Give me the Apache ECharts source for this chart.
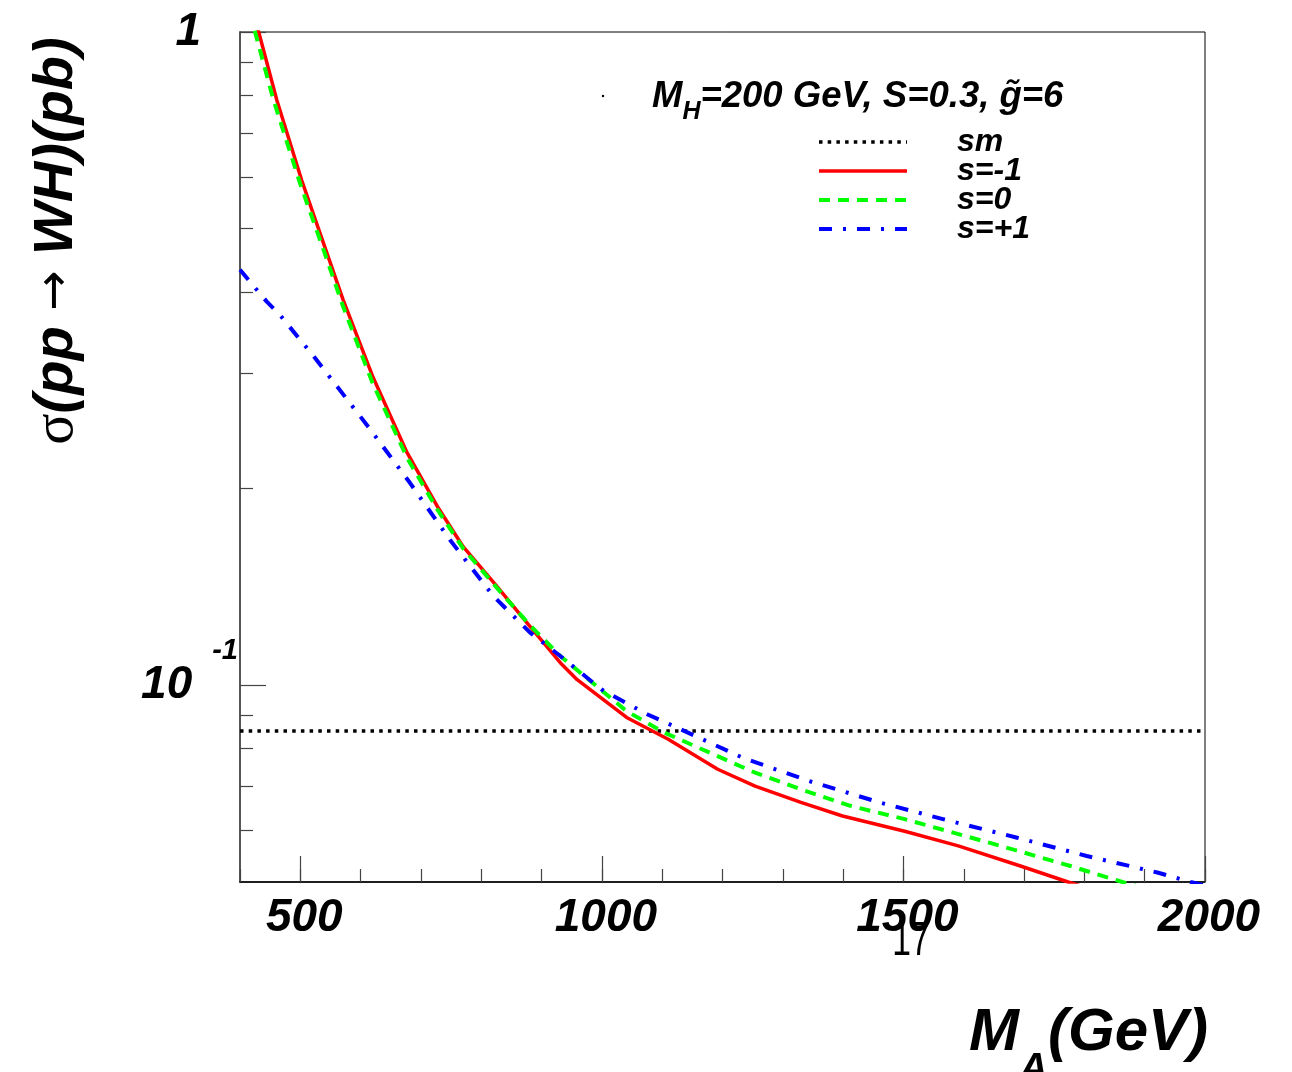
<!DOCTYPE html>
<html>
<head>
<meta charset="utf-8">
<script src="https://cdn.jsdelivr.net/npm/echarts@6/dist/echarts.min.js"></script>
<style>
html,body{margin:0;padding:0;background:#fff;}
#c{width:1292px;height:1072px;}
</style>
</head>
<body>
<div id="c"></div>
<script>
// ---- data ----
const smMass = [400, 2000];
const smSigma = [0.0851, 0.0851];

const redMass  = [400, 431, 461, 502, 544, 571, 620, 677, 727, 770, 826, 881, 931, 959, 1041, 1110, 1192, 1254, 1330, 1399, 1502, 1591, 1694, 1773, 2000];
const redSigma = [1.28, 1.0, 0.787, 0.594, 0.459, 0.389, 0.297, 0.227, 0.188, 0.163, 0.1417, 0.123, 0.1083, 0.102, 0.0893, 0.0827, 0.0744, 0.0701, 0.0662, 0.0631, 0.0598, 0.0568, 0.0529, 0.0500, 0.0430];

const greenMass  = [400, 425, 455, 500, 540, 571, 620, 677, 727, 770, 826, 881, 931, 1041, 1103, 1192, 1254, 1330, 1412, 1502, 1591, 1681, 1777, 1863, 2000];
const greenSigma = [1.22, 1.0, 0.79, 0.585, 0.46, 0.38, 0.29, 0.223, 0.186, 0.162, 0.141, 0.1235, 0.1109, 0.0913, 0.0847, 0.0779, 0.0735, 0.0693, 0.0654, 0.0624, 0.0592, 0.0561, 0.0529, 0.0500, 0.0460];

const blueMass  = [400, 444, 465, 522, 610, 682, 748, 820, 881, 931, 999, 1075, 1130, 1233, 1343, 1460, 1577, 1687, 1804, 1921, 1976, 2000];
const blueSigma = [0.4325, 0.387, 0.370, 0.319, 0.2506, 0.204, 0.167, 0.137, 0.1204, 0.1109, 0.0986, 0.0903, 0.0857, 0.0775, 0.0714, 0.0662, 0.0620, 0.0585, 0.0548, 0.0517, 0.0500, 0.0494];

const seriesNames = ['sm', 's=-1', 's=0', 's=+1'];
const xMajorTicks = [500, 1000, 1500, 2000];
const yMajorTicks = [0.1, 1];
const yMinorTicks = [0.06, 0.07, 0.08, 0.09, 0.2, 0.3, 0.4, 0.5, 0.6, 0.7, 0.8, 0.9];

// ---- chart ----
const FONT = "'Liberation Sans', Arial, Helvetica, sans-serif";
const SYM = "'Liberation Serif', 'DejaVu Serif', serif";
const ARROW = "'DejaVu Sans', sans-serif";
const bi = (size) => ({fontFamily: FONT, fontWeight: 'bold', fontStyle: 'italic', fontSize: size, color: '#000'});
const pairs = (xs, ys) => xs.map((x, i) => [x, ys[i]]);

const chart = echarts.init(document.getElementById('c'), null, {renderer: 'canvas'});

const option = {
  animation: false,
  backgroundColor: '#fff',
  grid: {left: 240, top: 32, right: 87, bottom: 190, show: true, borderColor: '#000', borderWidth: 1, backgroundColor: 'transparent'},
  xAxis: [
    {
      type: 'value', min: 400, max: 2000, interval: 100, position: 'bottom',
      axisLine: {show: true, lineStyle: {color: '#000', width: 1.5}},
      axisTick: {show: true, inside: true, length: 13, lineStyle: {color: '#444', width: 1.2}},
      axisLabel: {show: false},
      splitLine: {show: false}
    },
    {
      type: 'value', min: 400, max: 2000, position: 'bottom',
      axisLine: {show: false},
      axisTick: {show: true, inside: true, length: 26, customValues: xMajorTicks, lineStyle: {color: '#444', width: 1.2}},
      axisLabel: Object.assign({show: true, margin: 13, padding: [0, 0, 0, 8], customValues: xMajorTicks, formatter: v => String(v)}, bi(46)),
      splitLine: {show: false}
    }
  ],
  yAxis: [
    {
      type: 'log', logBase: 10, min: 0.05, max: 1, position: 'left',
      axisLine: {show: true, lineStyle: {color: '#555', width: 2}},
      axisTick: {show: true, inside: true, length: 26, customValues: yMajorTicks, lineStyle: {color: '#444', width: 1.2}},
      axisLabel: {
        show: true, margin: 2, customValues: yMajorTicks,
        formatter: v => {
          if (Math.abs(v - 1) < 1e-6) return '{one|1}';
          if (Math.abs(v - 0.1) < 1e-6) return '{b|10}{s|-1}';
          return '';
        },
        rich: {
          one: Object.assign({padding: [0, 37, 0, 0]}, bi(46)),
          b: bi(46),
          s: Object.assign({padding: [0, 0, 68, 20]}, bi(29))
        }
      },
      splitLine: {show: false}
    },
    {
      type: 'log', logBase: 10, min: 0.05, max: 1, position: 'left',
      axisLine: {show: false},
      axisTick: {show: true, inside: true, length: 13, customValues: yMinorTicks, lineStyle: {color: '#444', width: 1.2}},
      axisLabel: {show: false},
      splitLine: {show: false}
    }
  ],
  legend: {
    data: seriesNames,
    orient: 'vertical',
    left: 817, top: 126, padding: 0,
    itemWidth: 88, itemHeight: 29, itemGap: -3,
    formatter: n => '{t|' + n + '}',
    textStyle: {rich: {t: Object.assign({padding: [0, 0, 0, 45], lineHeight: 29, height: 29}, bi(32))}},
    lineStyle: {width: 'inherit'},
    itemStyle: {opacity: 0},
    selectedMode: false
  },
  graphic: [
    {
      type: 'text', x: 57, y: 241, rotation: Math.PI / 2,
      style: {
        text: '{s|σ}{t|(pp }{a|→}{t| WH)(pb)}',
        align: 'center', verticalAlign: 'middle',
        rich: {t: bi(56), s: {fontFamily: SYM, fontSize: 58, color: '#000'}, a: {fontFamily: ARROW, fontSize: 48, color: '#000'}}
      }
    },
    {
      type: 'text', x: 1208, y: 1033,
      style: {
        text: '{m|M}{sub|A}{m|(GeV)}',
        align: 'right', verticalAlign: 'middle',
        rich: {m: bi(60), sub: Object.assign({padding: [74, 0, 0, 0]}, bi(40))}
      }
    },
    {
      type: 'text', x: 652, y: 97,
      style: {
        text: '{m|M}{sub|H}{m|=200 GeV, S=0.3, g\u0303=6}',
        align: 'left', verticalAlign: 'middle',
        rich: {m: bi(36.5), sub: Object.assign({padding: [30, 0, 0, 0]}, bi(25))}
      }
    },
    {
      type: 'circle', shape: {cx: 603, cy: 96, r: 1.2}, style: {fill: '#000'}
    },
    {
      type: 'text', x: 911, y: 966, scaleX: 0.7,
      style: {text: '17', align: 'center', verticalAlign: 'bottom', fontFamily: FONT, fontSize: 48, fill: '#000'}
    }
  ],
  series: [
    {
      name: 'sm', type: 'line', xAxisIndex: 0, yAxisIndex: 0, symbol: 'none', clip: true,
      data: pairs(smMass, smSigma),
      lineStyle: {color: '#000', width: 3.5, type: [3.5, 5.2], cap: 'butt'},
      itemStyle: {color: '#000'}
    },
    {
      name: 's=-1', type: 'line', xAxisIndex: 0, yAxisIndex: 0, symbol: 'none', clip: true,
      data: pairs(redMass, redSigma),
      lineStyle: {color: '#ff0000', width: 3.5, type: 'solid'},
      itemStyle: {color: '#ff0000'}
    },
    {
      name: 's=0', type: 'line', xAxisIndex: 0, yAxisIndex: 0, symbol: 'none', clip: true,
      data: pairs(greenMass, greenSigma),
      lineStyle: {color: '#00ff00', width: 4, type: [11, 8], cap: 'butt'},
      itemStyle: {color: '#00ff00'}
    },
    {
      name: 's=+1', type: 'line', xAxisIndex: 0, yAxisIndex: 0, symbol: 'none', clip: true,
      data: pairs(blueMass, blueSigma),
      lineStyle: {color: '#0000ff', width: 4, type: [13, 11, 3, 11], cap: 'butt'},
      itemStyle: {color: '#0000ff'}
    }
  ]
};
chart.setOption(option);
</script>
</body>
</html>
